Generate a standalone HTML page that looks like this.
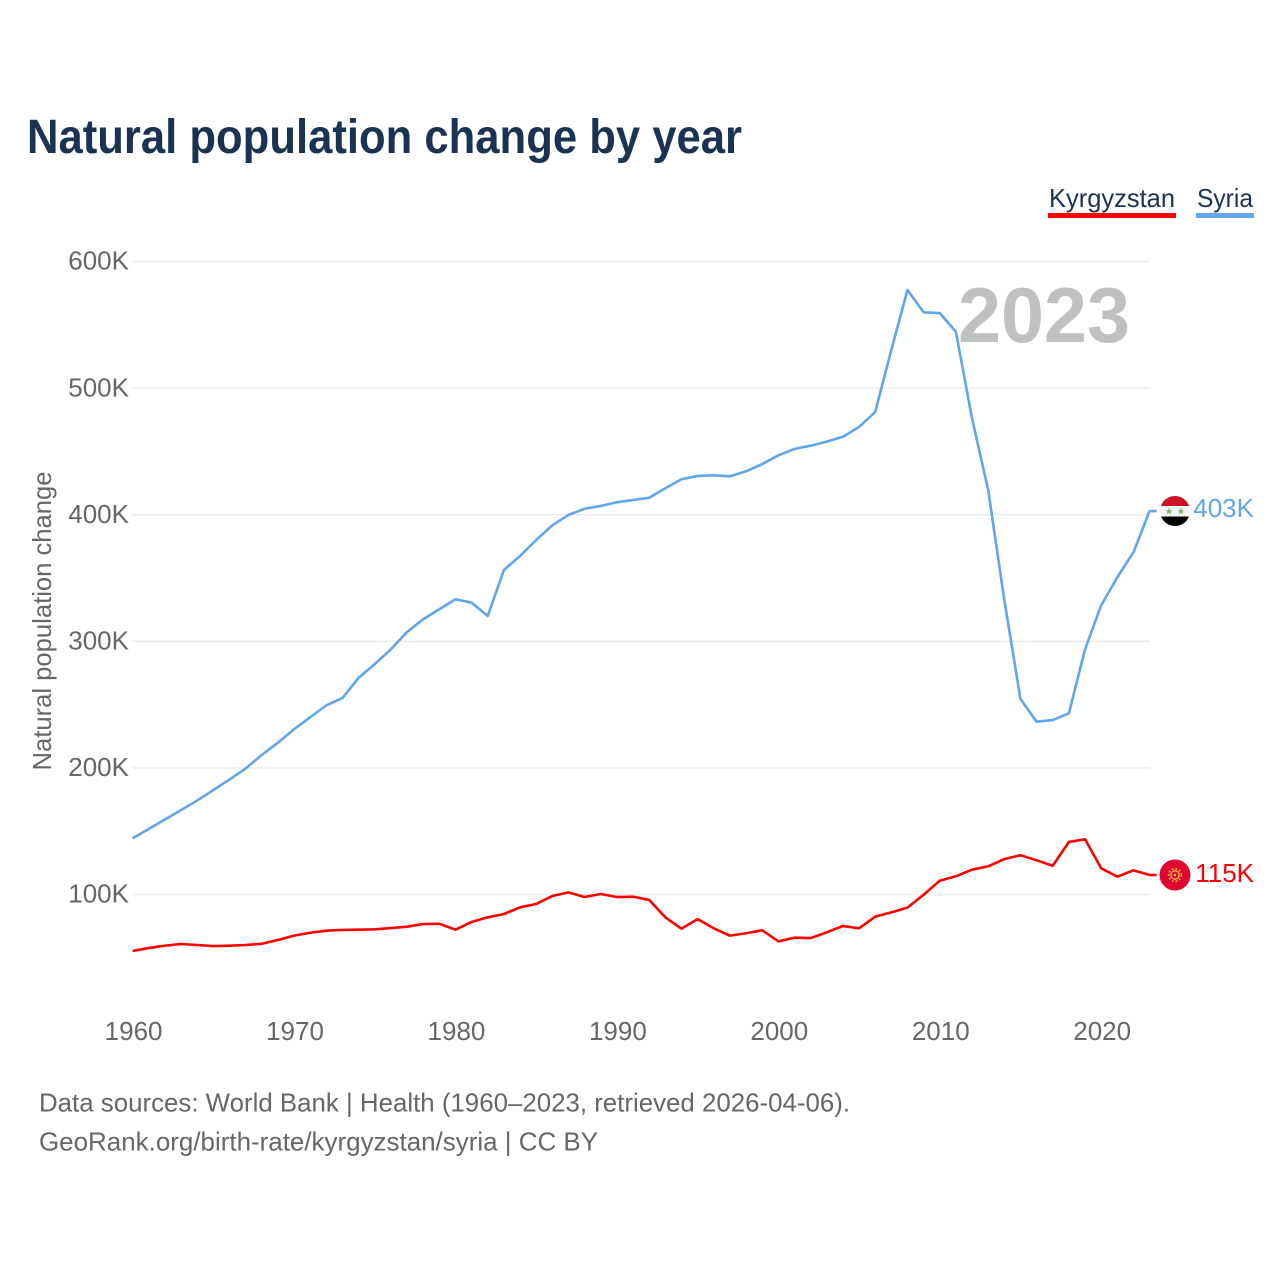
<!DOCTYPE html>
<html lang="en">
<head>
<meta charset="utf-8">
<title>Natural population change by year</title>
<style>
html,body{margin:0;padding:0;background:#fff;}
svg{display:block;}
text{font-family:"Liberation Sans",sans-serif;}
</style>
</head>
<body>
<svg id="chart" xmlns="http://www.w3.org/2000/svg" width="1280" height="1280" viewBox="0 0 1280 1280">
  <defs>
    <clipPath id="flag-clip"><circle cx="0" cy="0" r="15"></circle></clipPath>
  </defs>
  <rect x="0" y="0" width="1280" height="1280" fill="#ffffff"></rect>
  <text x="27" y="153" font-size="48" font-weight="700" fill="#1a3352" textLength="715" lengthAdjust="spacingAndGlyphs">Natural population change by year</text>

  <g>
    <text x="1049" y="207" font-size="26" fill="#1a3352" textLength="126" lengthAdjust="spacingAndGlyphs">Kyrgyzstan</text>
    <rect x="1048" y="213" width="128" height="5" fill="#ff0000"></rect>
  </g>
  <g>
    <text x="1197" y="207" font-size="26" fill="#1a3352" textLength="56" lengthAdjust="spacingAndGlyphs">Syria</text>
    <rect x="1196" y="213" width="58" height="5" fill="#60a5ee"></rect>
  </g>

  <g id="grid"></g>
  <g id="y-ticks"></g>
  <g id="x-ticks"></g>

  <text transform="translate(51 621) rotate(-90)" text-anchor="middle" font-size="26" fill="#666666" textLength="299" lengthAdjust="spacingAndGlyphs">Natural population change</text>

  <text x="958" y="342" font-size="78" font-weight="700" fill="#c0c0c0" textLength="172" lengthAdjust="spacingAndGlyphs">2023</text>

  <path id="line-syria" fill="none" stroke="#60a5ee" stroke-width="2.6" stroke-linejoin="round"></path>
  <path id="line-kyrgyzstan" fill="none" stroke="#ff0000" stroke-width="2.6" stroke-linejoin="round"></path>

  <g id="flag-syria">
    <g clip-path="url(#flag-clip)">
      <rect x="-16" y="-16" width="32" height="11" fill="#ce1126"></rect>
      <rect x="-16" y="-5" width="32" height="10.5" fill="#f4f4f4"></rect>
      <rect x="-16" y="5.5" width="32" height="11" fill="#000000"></rect>
      <polygon points="-6,-3.4 -5,-0.9 -2.7,-0.9 -4.4,0.7 -3.8,3.2 -6,1.9 -8.2,3.2 -7.6,0.7 -9.3,-0.9 -7,-0.9" fill="#7fb56a"></polygon>
      <polygon points="6,-3.4 7,-0.9 9.3,-0.9 7.6,0.7 8.2,3.2 6,1.9 3.8,3.2 4.4,0.7 2.7,-0.9 5,-0.9" fill="#7fb56a"></polygon>
    </g>
  </g>
  <g id="flag-kyrgyzstan">
    <circle cx="0" cy="0" r="15.5" fill="#e0062f"></circle>
    <circle cx="0" cy="0" r="4.2" fill="none" stroke="#f5c04a" stroke-width="1.3"></circle>
    <circle cx="0" cy="0" r="6.4" fill="none" stroke="#f5c04a" stroke-width="1.5" stroke-dasharray="1.8 2"></circle>
    <circle cx="0" cy="0" r="1.3" fill="#f5c04a"></circle>
  </g>
  <text id="value-syria" text-anchor="end" font-size="26" fill="#60a5ee"></text>
  <text id="value-kyrgyzstan" text-anchor="end" font-size="26" fill="#ff0000"></text>

  <text x="39" y="1111.5" font-size="26" fill="#666666" textLength="811" lengthAdjust="spacingAndGlyphs">Data sources: World Bank | Health (1960–2023, retrieved 2026-04-06).</text>
  <text x="39" y="1150.5" font-size="26" fill="#666666" textLength="559" lengthAdjust="spacingAndGlyphs">GeoRank.org/birth-rate/kyrgyzstan/syria | CC BY</text>
</svg>
<script>
const firstYear = 1960;
const xTickYears = [1960, 1970, 1980, 1990, 2000, 2010, 2020];
const yTickValues = [100, 200, 300, 400, 500, 600];
const syriaValues = [
  144.4, 151.7, 159.2, 166.7, 174.2, 182.5, 190.8, 199.5, 210.2, 219.9,
  230.5, 240.0, 249.4, 255.2, 271.2, 282.0, 293.7, 307.3, 317.4, 325.3,
  333.2, 330.5, 320.0, 356.3, 367.4, 380.0, 391.6, 399.8, 404.7, 406.9,
  409.8, 411.6, 413.4, 420.9, 428.0, 430.6, 431.1, 430.3, 434.3, 440.0,
  446.9, 451.9, 454.5, 457.7, 461.6, 469.3, 481.1, 530.1, 577.5, 559.9,
  559.3, 544.5, 476.1, 419.5, 332.6, 254.4, 236.5, 237.8, 243.1, 293.7,
  328.4, 350.6, 370.3, 402.9
];
const kyrgyzstanValues = [
  55.4, 57.7, 59.6, 60.9, 60.1, 59.3, 59.6, 60.1, 61.1, 64.1,
  67.5, 69.8, 71.4, 72.0, 72.2, 72.5, 73.5, 74.6, 76.7, 76.9,
  72.2, 78.3, 82.0, 84.6, 89.9, 92.5, 98.8, 101.7, 98.0, 100.4,
  98.0, 98.3, 95.7, 82.0, 73.0, 80.6, 73.3, 67.5, 69.4, 71.7,
  63.0, 65.9, 65.6, 70.1, 75.1, 73.3, 82.5, 85.9, 89.6, 99.8,
  110.9, 114.4, 119.6, 122.3, 128.0, 131.0, 127.0, 122.7, 141.5, 143.6,
  120.7, 114.1, 119.1, 115.4
];

const SVG_NS = 'http://www.w3.org/2000/svg';
function xScale(year) { return 132.6 + (year - 1960) * 16.143; }
function yScale(value) { return 894.5 - (value - 100) * 1.266; }

const gridGroup = document.getElementById('grid');
const yTickGroup = document.getElementById('y-ticks');
const xTickGroup = document.getElementById('x-ticks');

yTickValues.forEach(function (v) {
  const line = document.createElementNS(SVG_NS, 'line');
  
  
  line.setAttribute('x1', 133);
  line.setAttribute('x2', 1150);
  line.setAttribute('y1', yScale(v));
  line.setAttribute('y2', yScale(v));
  line.setAttribute('stroke', '#e9e9e9');
  line.setAttribute('stroke-width', '1.3');
  gridGroup.appendChild(line);

  const label = document.createElementNS(SVG_NS, 'text');
  
  
  label.setAttribute('x', 129);
  label.setAttribute('y', yScale(v) + 8.2);
  label.setAttribute('text-anchor', 'end');
  label.setAttribute('font-size', '26');
  label.setAttribute('fill', '#666666');
  label.textContent = v + 'K';
  yTickGroup.appendChild(label);
});

xTickYears.forEach(function (year) {
  const label = document.createElementNS(SVG_NS, 'text');
  
  
  label.setAttribute('x', xScale(year) + 1);
  label.setAttribute('y', 1040);
  label.setAttribute('text-anchor', 'middle');
  label.setAttribute('font-size', '26');
  label.setAttribute('fill', '#666666');
  label.textContent = String(year);
  xTickGroup.appendChild(label);
});

function linePath(values) {
  let d = '';
  values.forEach(function (v, i) {
    d += (i === 0 ? 'M' : 'L') + xScale(firstYear + i).toFixed(2) + ' ' + yScale(v).toFixed(2);
  });
  const last = values[values.length - 1];
  d += 'L' + (xScale(firstYear + values.length - 1) + 7).toFixed(2) + ' ' + yScale(last).toFixed(2);
  return d;
}

document.getElementById('line-syria').setAttribute('d', linePath(syriaValues));
document.getElementById('line-kyrgyzstan').setAttribute('d', linePath(kyrgyzstanValues));

const syriaLast = syriaValues[syriaValues.length - 1];
const kyrgyzstanLast = kyrgyzstanValues[kyrgyzstanValues.length - 1];
document.getElementById('flag-syria').setAttribute('transform', 'translate(1175 ' + yScale(syriaLast) + ')');
document.getElementById('flag-kyrgyzstan').setAttribute('transform', 'translate(1175 ' + yScale(kyrgyzstanLast) + ')');

const syriaValueLabel = document.getElementById('value-syria');
syriaValueLabel.setAttribute('x', 1254);
syriaValueLabel.setAttribute('y', yScale(syriaLast) + 6);
syriaValueLabel.textContent = Math.round(syriaLast) + 'K';

const kyrgyzstanValueLabel = document.getElementById('value-kyrgyzstan');
kyrgyzstanValueLabel.setAttribute('x', 1254);
kyrgyzstanValueLabel.setAttribute('y', yScale(kyrgyzstanLast) + 7);
kyrgyzstanValueLabel.textContent = Math.round(kyrgyzstanLast) + 'K';
</script>
</body>
</html>
